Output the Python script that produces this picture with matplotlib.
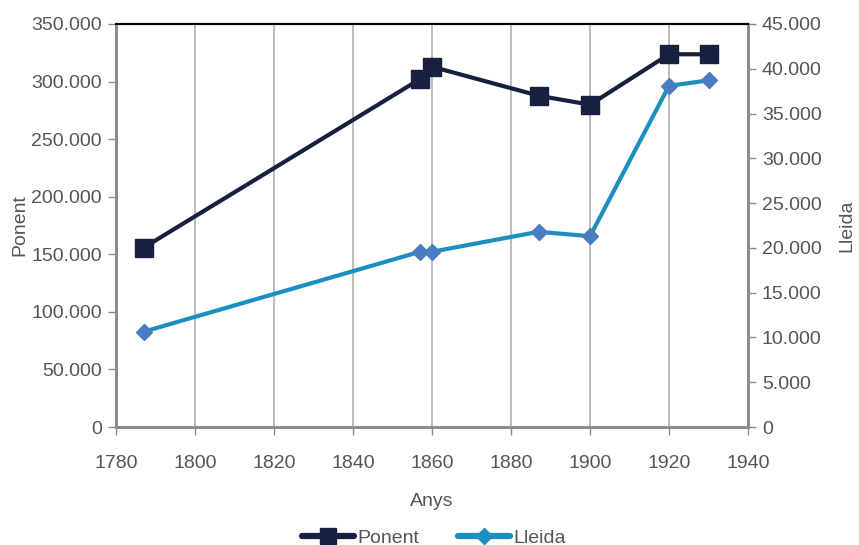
import matplotlib
matplotlib.use('Agg')
import matplotlib.pyplot as plt
from matplotlib.ticker import FuncFormatter, MultipleLocator
from matplotlib.lines import Line2D

plt.rcParams['font.family'] = ['Liberation Sans', 'DejaVu Sans']

years = [1787, 1857, 1860, 1887, 1900, 1920, 1930]
ponent = [155700, 302200, 312900, 287700, 279900, 323700, 323700]
lleida = [10640, 19570, 19570, 21800, 21300, 38100, 38700]

navy = '#17213f'
blue_line = '#1a8fc0'
blue_mark = '#4a7cc0'
grey = '#8c8c8c'
txt = '#555555'
fs = 14


def dots(v, pos):
    return '{:,.0f}'.format(v).replace(',', '.')


fig = plt.figure(figsize=(8.59, 5.45), dpi=100)
ax = fig.add_axes([0.135, 0.2165, 0.7358, 0.7395])
ax2 = ax.twinx()

ax.plot(years, ponent, color=navy, lw=3, marker='s', ms=12.5, zorder=3)
ax2.plot(years, lleida, color=blue_line, lw=3, marker='D', ms=8,
         mfc=blue_mark, mec=blue_mark, zorder=3)

ax.set_xlim(1780, 1940)
ax.set_ylim(0, 350000)
ax2.set_ylim(0, 45000)
ax.xaxis.set_major_locator(MultipleLocator(20))
ax.yaxis.set_major_locator(MultipleLocator(50000))
ax2.yaxis.set_major_locator(MultipleLocator(5000))
ax.yaxis.set_major_formatter(FuncFormatter(dots))
ax2.yaxis.set_major_formatter(FuncFormatter(dots))
ax.grid(axis='x', color='#b0b0b0', lw=1.2)
ax.set_axisbelow(True)

for a in (ax, ax2):
    for s in ('left', 'right', 'bottom'):
        a.spines[s].set_color(grey)
        a.spines[s].set_linewidth(2)
    a.spines['top'].set_color('black')
    a.spines['top'].set_linewidth(1.5)
    a.tick_params(colors=grey, labelcolor=txt, labelsize=fs, length=6, width=1, pad=4)
ax.tick_params(axis='x', pad=14)

ax.set_xlabel('Anys', fontsize=fs, color=txt, labelpad=15)
ax.set_ylabel('Ponent', fontsize=fs, color=txt, labelpad=2)
ax2.set_ylabel('Lleida', fontsize=fs, color=txt, labelpad=12)

handles = [Line2D([], [], color=navy, lw=4.5, marker='s', ms=12,
                  solid_capstyle='round'),
           Line2D([], [], color=blue_line, lw=4.5, marker='D', ms=8,
                  solid_capstyle='round')]
fig.legend(handles, ['Ponent', 'Lleida'], loc='lower center',
           bbox_to_anchor=(0.505, -0.035), ncol=2, frameon=False,
           fontsize=fs, labelcolor=txt, handlelength=2.7,
           handletextpad=0.15, columnspacing=2.0)

fig.savefig('out.png', dpi=100)
